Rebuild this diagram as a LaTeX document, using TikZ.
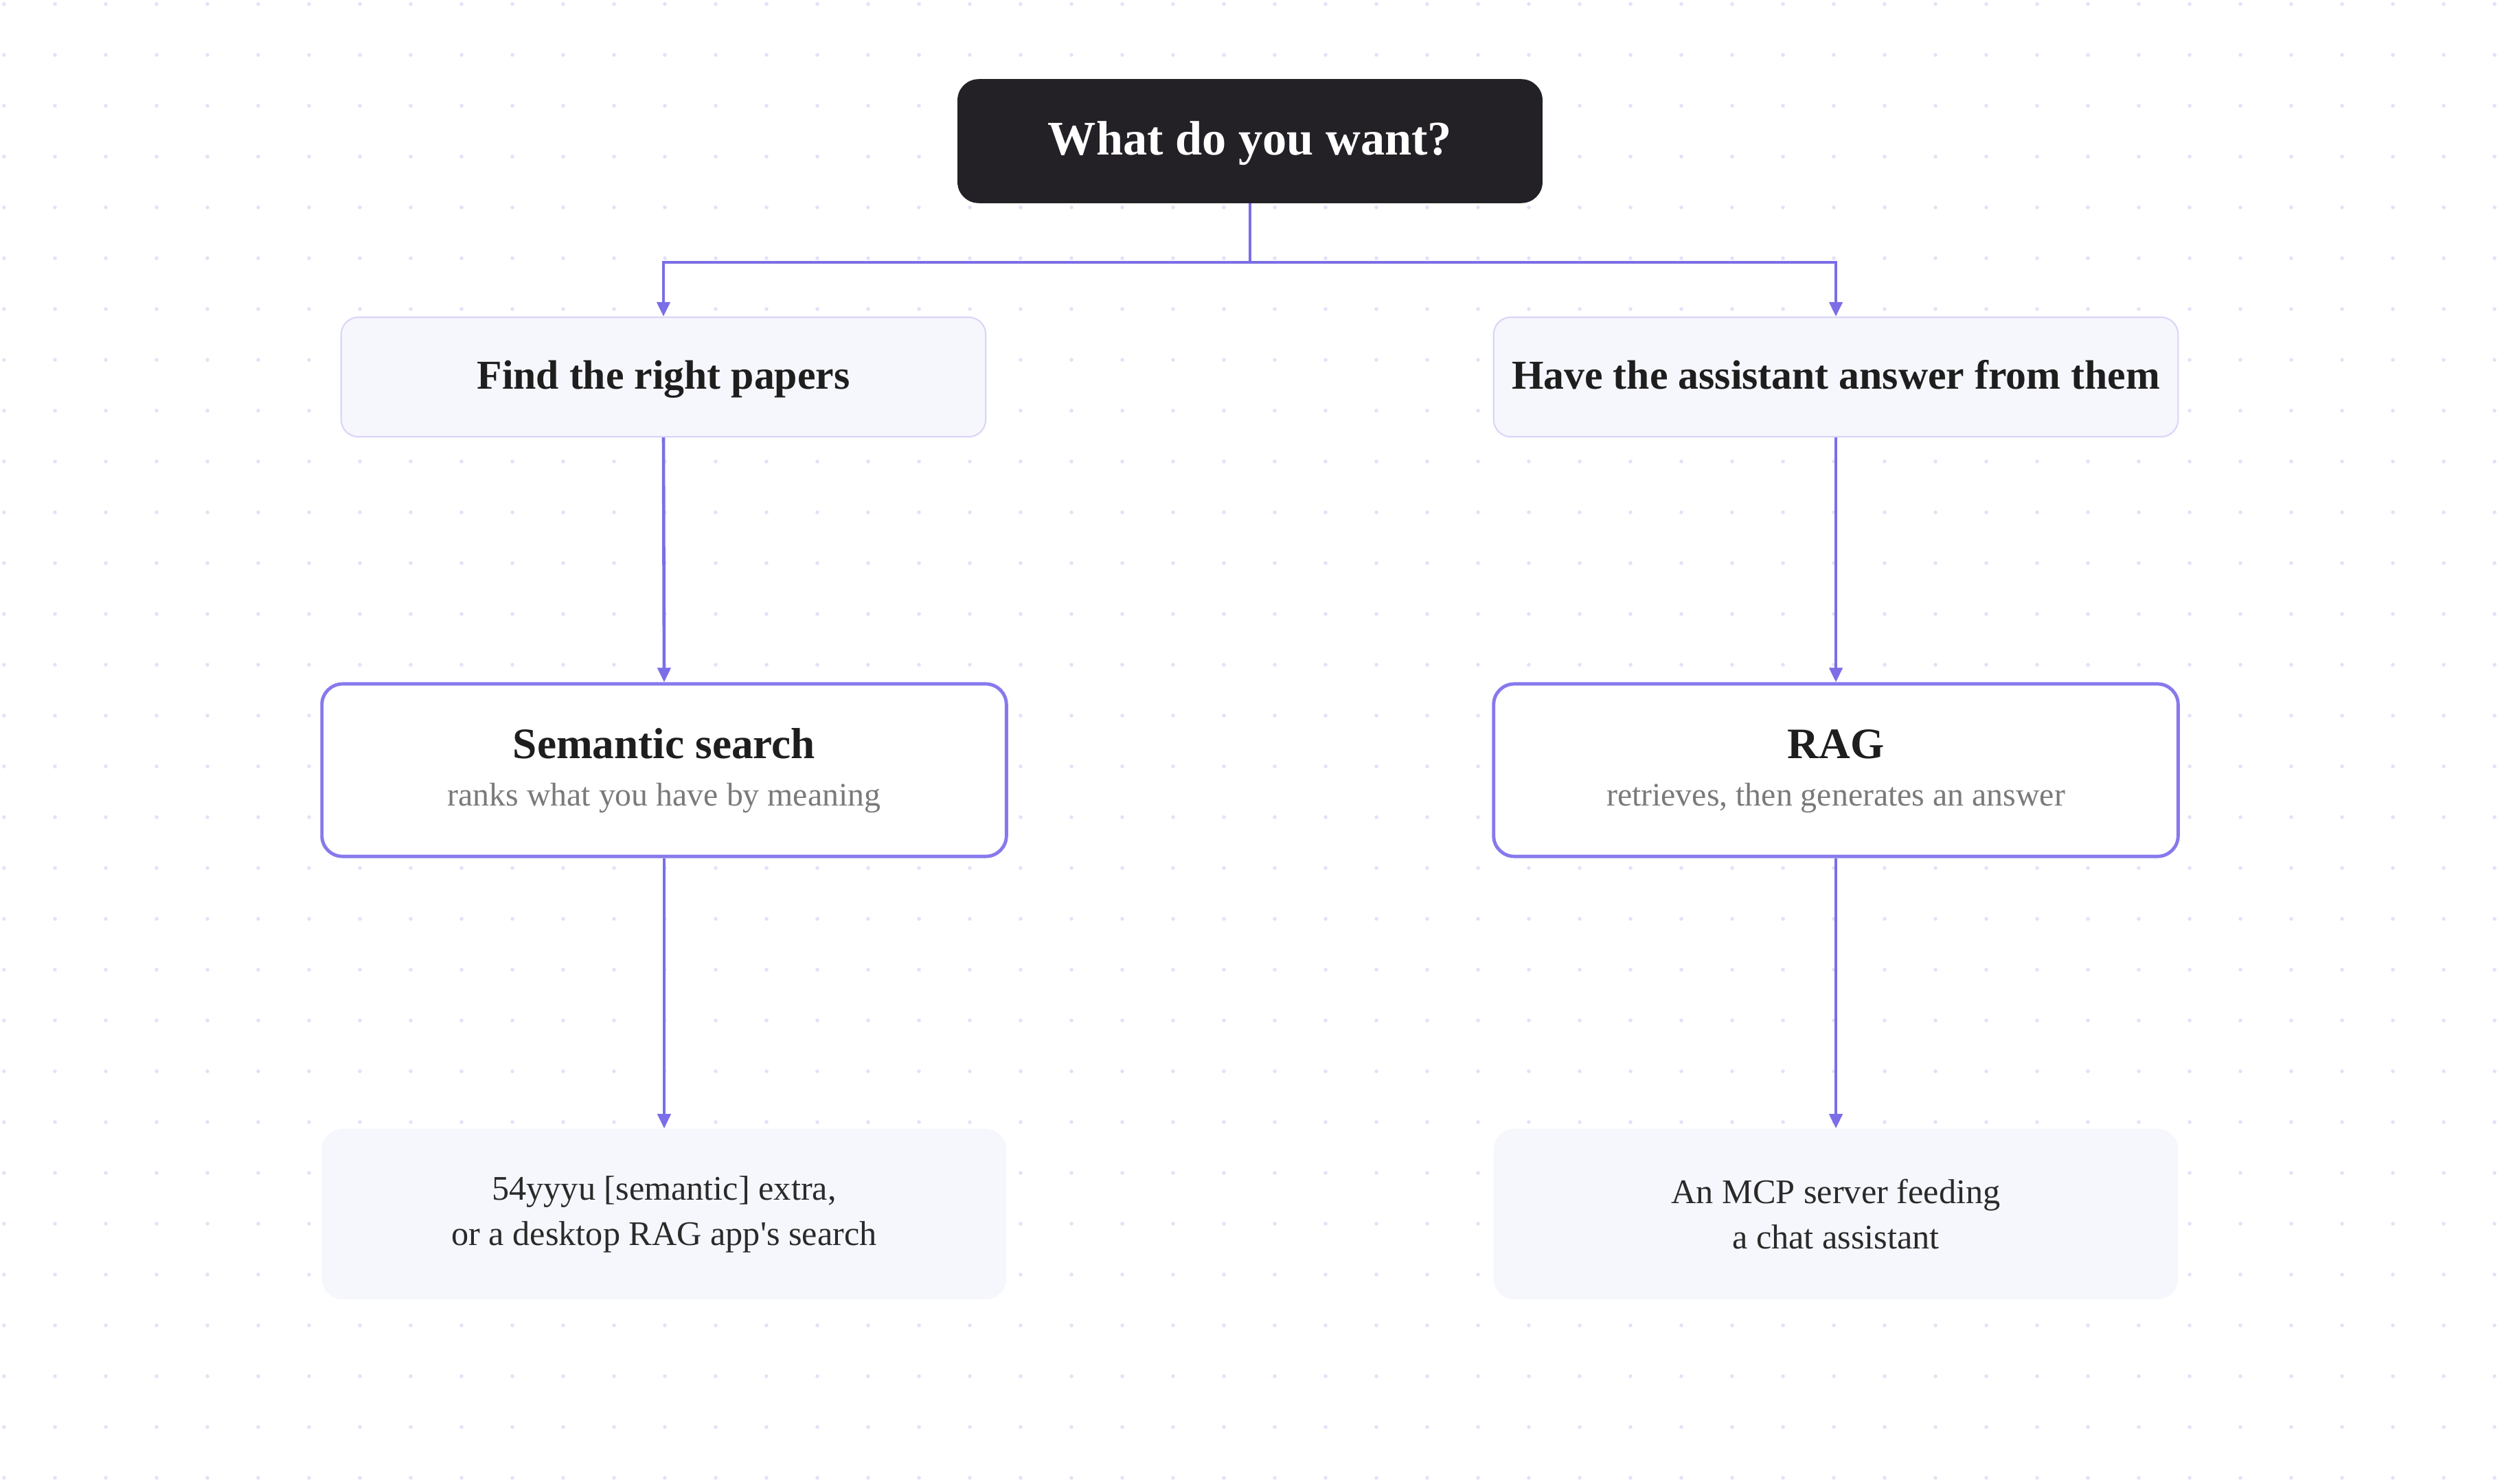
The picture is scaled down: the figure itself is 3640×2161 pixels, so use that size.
\documentclass[tikz,border=0pt]{standalone}
\usepackage{fontspec}
\setmainfont{Liberation Serif}
\usetikzlibrary{arrows.meta}
\definecolor{conncol}{HTML}{7B6EE6}
\definecolor{topfill}{HTML}{232125}
\definecolor{softfill}{HTML}{F6F7FD}
\definecolor{softline}{HTML}{DAD5F8}
\definecolor{mainline}{HTML}{8779EC}
\definecolor{dotcol}{HTML}{E4E1F7}
\definecolor{titlecol}{HTML}{1E1E1E}
\definecolor{subcol}{HTML}{7A7A7A}
\definecolor{bodycol}{HTML}{2A2A2A}
\begin{document}
\begin{tikzpicture}[x=0.01cm,y=-0.01cm,
  topbox/.style={rectangle, rounded corners=0.3cm, fill=topfill, draw=topfill,
    minimum width=8.5cm, minimum height=1.79cm, inner sep=0pt, text=white,
    text height=13.6pt, text depth=2.5pt,
    font=\bfseries\fontsize{20}{24}\selectfont},
  qbox/.style={rectangle, rounded corners=0.25cm, fill=softfill, draw=softline,
    line width=0.6pt, minimum height=1.74cm, inner sep=0pt, text=titlecol,
    text height=11.6pt, text depth=1.4pt,
    font=\bfseries\fontsize{17}{20}\selectfont},
  mbox/.style={rectangle, rounded corners=0.3cm, fill=white, draw=mainline,
    line width=1.4pt, minimum width=9.96cm, minimum height=2.51cm, inner sep=0pt},
  abox/.style={rectangle, rounded corners=0.3cm, fill=softfill, draw=none,
    minimum width=9.96cm, minimum height=2.48cm, inner sep=0pt, align=center,
    text=bodycol, font=\fontsize{14.3}{18.8}\selectfont},
  mtitle/.style={anchor=base, inner sep=0pt, text=titlecol,
    font=\bfseries\fontsize{18}{22}\selectfont},
  msub/.style={anchor=base, inner sep=0pt, text=subcol,
    font=\fontsize{13.6}{16}\selectfont},
  conn/.style={draw=conncol, line width=1.3pt, -{Triangle[length=6pt,width=5.4pt]}},
  connplain/.style={draw=conncol, line width=1.3pt}
]
\useasboundingbox (0,0) rectangle (3640,2161);
\fill[white] (0,0) rectangle (3640,2161);
% dot grid
\foreach \i in {0,...,49}{
  \foreach \j in {0,...,29}{
    \fill[dotcol] (6+74*\i,6+74*\j) circle[radius=0.028cm];
  }
}
% nodes
\node[topbox] (top) at (1820,205.5) {What do you want?};
\node[qbox, minimum width=9.38cm] (find) at (966,549) {Find the right papers};
\node[qbox, minimum width=9.96cm] (have) at (2673,549) {Have the assistant answer from them};
\node[mbox] (sem) at (967,1121.5) {};
\node[mtitle] (semt) at (967,1104) {Semantic search};
\node[msub] (sems) at (967,1173) {ranks what you have by meaning};
\node[mbox] (rag) at (2673,1121.5) {};
\node[mtitle] (ragt) at (2673,1104) {RAG};
\node[msub] (rags) at (2673,1173) {retrieves, then generates an answer};
\node[abox] (ans1) at (967,1768) {54yyyu [semantic] extra,\\or a desktop RAG app\textquotesingle s search};
\node[abox] (ans2) at (2673,1768) {An MCP server feeding\\a chat assistant};
% connectors
\coordinate (split) at (1820,382);
\draw[connplain] (top.south) -- (split);
\draw[conn] (split) -| (find.north);
\draw[conn] (split) -| (have.north);
\draw[conn] (find.south) -- (sem.north);
\draw[conn] (have.south) -- (rag.north);
\draw[conn] (sem.south) -- (ans1.north);
\draw[conn] (rag.south) -- (ans2.north);
\end{tikzpicture}
\end{document}
